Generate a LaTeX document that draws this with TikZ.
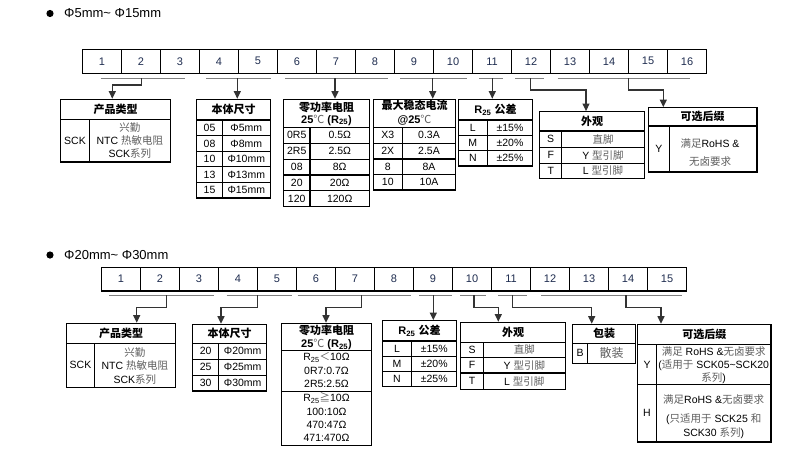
\documentclass[tikz,border=0pt]{standalone}
\usepackage{fontspec}
\setmainfont{Liberation Sans}
\newfontfamily\cjk{Noto Sans CJK SC}
\usetikzlibrary{arrows.meta,fit}
\definecolor{numc}{HTML}{1F2D50}
\definecolor{zhg}{HTML}{5E5E5E}
\definecolor{brkc}{HTML}{808080}
\definecolor{conc}{HTML}{333333}
\newcommand\zh[1]{{\cjk\color{zhg}#1}}
\newcommand\zb[1]{{\cjk\bfseries #1}}
\newcommand\myC{{\cjk\mdseries\color{zhg}℃}}
\newcommand\Rtf{R\textsubscript{25}}
\tikzset{
  cell/.style={inner sep=0pt, minimum width=39pt, minimum height=23.5pt, font=\fontsize{11}{12}\selectfont, text=numc},
  grid/.style={line width=1.1pt},
  tb/.style={draw, line width=1.2pt, inner sep=0pt},
  tl/.style={line width=1.1pt},
  brk/.style={draw=brkc, line width=1.4pt},
  arr/.style={draw=conc, line width=1.1pt, -{Triangle[width=7pt,length=7.5pt]}},
  tx/.style={inner sep=0pt, font=\fontsize{10.5}{12.5}\selectfont},
  hd/.style={inner sep=0pt, align=center, font=\fontsize{11}{13.5}\selectfont\bfseries},
  ttl/.style={inner sep=0pt, anchor=west, font=\fontsize{13}{15}\selectfont},
}
\newcommand\trow[6]{\node[tx] (#1-l) at (#2,#4) {#5}; \node[tx] (#1-r) at (#3,#4) {#6};}
\begin{document}
\begin{tikzpicture}[x=1pt,y=-1pt]
\fill[white] (0,0) rectangle (791,455);
\useasboundingbox (0,0) rectangle (791,455);

% ================= TOP =================
\fill (50,13.5) circle (3.6);
\node[ttl] (title1) at (64,13.5) {Φ5mm\textasciitilde{} Φ15mm};
\foreach \i in {1,...,16} \node[cell] (t\i) at ({82.5+(\i-0.5)*39},61.25) {\i};
\draw[grid] (t1.north west) rectangle (t16.south east);
\foreach \i in {2,...,16} \draw[grid] (t\i.north west) -- (t\i.south west);

% bracket lines
\draw[brk] (100.7,78.3) -- (185,78.3);
\draw[brk] (206.3,78.3) -- (270.7,78.3);
\draw[brk] (285,78.3) -- (387.7,78.3);
\draw[brk] (400,78.3) -- (467.3,78.3);
\draw[brk] (479.3,78.3) -- (503.3,78.3);
\draw[brk] (515.3,78.3) -- (544.3,78.3);
\draw[brk] (557.7,78.3) -- (690,78.3);
\coordinate (s1) at (141.7,78.3); \coordinate (k1) at (112.3,85);
\coordinate (s2) at (237.3,78.3);
\coordinate (s3) at (335,78.3);
\coordinate (s4) at (432.7,78.3);
\coordinate (s5) at (492.3,78.3);
\coordinate (s6) at (530.3,78.3); \coordinate (k6) at (586,90);
\coordinate (s7) at (628.3,78.3); \coordinate (k7) at (663.3,90);

% Box 1
\node[tb, fit={(60.7,99.3)(170.3,162)}] (b1) {};
\draw[tl] (60.7,119.3) -- (170.3,119.3) (89.3,119.3) -- (89.3,162);
\node[hd] (b1h) at (115.5,109.3) {\zb{产品类型}};
\node[tx] (b1a) at (75,140.7) {SCK};
\node[tx] (b1b) at (129.8,127.7) {\zh{兴勤}};
\node[tx] (b1c) at (129.8,141) {NTC \zh{热敏电阻}};
\node[tx] (b1d) at (129.8,153.3) {SCK\zh{系列}};

% Box 2
\node[tb, fit={(196.7,99.3)(270.3,198)}] (b2) {};
\draw[tl] (196.7,120) -- (270.3,120) (196.7,135.7) -- (270.3,135.7) (196.7,151.3) -- (270.3,151.3)
  (196.7,166.7) -- (270.3,166.7) (196.7,182.3) -- (270.3,182.3) (222.3,120) -- (222.3,198);
\node[hd] (b2h) at (233.5,109.7) {\zb{本体尺寸}};
\trow{b2r1}{209.5}{246.3}{127.85}{05}{Φ5mm}
\trow{b2r2}{209.5}{246.3}{143.5}{08}{Φ8mm}
\trow{b2r3}{209.5}{246.3}{159}{10}{Φ10mm}
\trow{b2r4}{209.5}{246.3}{174.5}{13}{Φ13mm}
\trow{b2r5}{209.5}{246.3}{190.15}{15}{Φ15mm}

% Box 3
\node[tb, fit={(283.5,99.3)(369.5,206.3)}] (b3) {};
\draw[tl] (283.5,127.3) -- (369.5,127.3) (283.5,143.3) -- (369.5,143.3) (283.5,159.3) -- (369.5,159.3)
  (283.5,175) -- (369.5,175) (283.5,190.7) -- (369.5,190.7) (310,127.3) -- (310,206.3);
\node[hd] (b3h) at (326.5,107.5) {\zb{零功率电阻}};
\node[hd] (b3h2) at (326.5,120) {25\myC{} (\Rtf)};
\trow{b3r1}{296.75}{339.75}{135.3}{0R5}{0.5Ω}
\trow{b3r2}{296.75}{339.75}{151.3}{2R5}{2.5Ω}
\trow{b3r3}{296.75}{339.75}{167.1}{08}{8Ω}
\trow{b3r4}{296.75}{339.75}{182.8}{20}{20Ω}
\trow{b3r5}{296.75}{339.75}{198.5}{120}{120Ω}

% Box 4
\node[tb, fit={(373.3,99.3)(455.7,190)}] (b4) {};
\draw[tl] (373.3,127.3) -- (455.7,127.3) (373.3,143.3) -- (455.7,143.3) (373.3,159) -- (455.7,159)
  (373.3,174.3) -- (455.7,174.3) (402.3,127.3) -- (402.3,190);
\node[hd] (b4h) at (414.5,105.5) {\zb{最大稳态电流}};
\node[hd] (b4h2) at (414.5,120.5) {@25\myC};
\trow{b4r1}{387.8}{429}{135.3}{X3}{0.3A}
\trow{b4r2}{387.8}{429}{151.1}{2X}{2.5A}
\trow{b4r3}{387.8}{429}{166.6}{8}{8A}
\trow{b4r4}{387.8}{429}{182.1}{10}{10A}

% Box 5
\node[tb, fit={(458.3,99.3)(532.7,166)}] (b5) {};
\draw[tl] (458.3,120) -- (532.7,120) (458.3,135.7) -- (532.7,135.7) (458.3,150.7) -- (532.7,150.7)
  (487.3,120) -- (487.3,166);
\node[hd] (b5h) at (495.5,110) {\Rtf{} \zb{公差}};
\trow{b5r1}{472.8}{510}{127.85}{L}{±15\%}
\trow{b5r2}{472.8}{510}{143.2}{M}{±20\%}
\trow{b5r3}{472.8}{510}{158.3}{N}{±25\%}

% Box 6
\node[tb, fit={(539.7,111.7)(644.3,178.3)}] (b6) {};
\draw[tl] (539.7,131) -- (644.3,131) (539.7,147.3) -- (644.3,147.3) (539.7,163.3) -- (644.3,163.3)
  (561.7,131) -- (561.7,178.3);
\node[hd] (b6h) at (592,121.3) {\zb{外观}};
\trow{b6r1}{550.7}{603}{139.1}{S}{\zh{直脚}}
\trow{b6r2}{550.7}{603}{155.3}{F}{Y \zh{型引脚}}
\trow{b6r3}{550.7}{603}{170.8}{T}{L \zh{型引脚}}

% Box 7
\node[tb, fit={(648.3,107.7)(757,172)}] (b7) {};
\draw[tl] (648.3,126) -- (757,126) (669.3,126) -- (669.3,172);
\node[hd] (b7h) at (702.6,116.8) {\zb{可选后缀}};
\node[tx] (b7a) at (658.8,149) {Y};
\node[tx] (b7b) at (710,143.3) {\zh{满足}RoHS \&};
\node[tx] (b7c) at (710,161.7) {\zh{无卤要求}};

% connectors top
\draw[arr] (s1) |- (k1) -- (k1 |- b1.north);
\draw[arr] (s2) -- (s2 |- b2.north);
\draw[arr] (s3) -- (s3 |- b3.north);
\draw[arr] (s4) -- (s4 |- b4.north);
\draw[arr] (s5) -- (s5 |- b5.north);
\draw[arr] (s6) |- (k6) -- (k6 |- b6.north);
\draw[arr] (s7) |- (k7) -- (k7 |- b7.north);

% ================= BOTTOM =================
\fill (50,255) circle (3.6);
\node[ttl] (title2) at (64,255) {Φ20mm\textasciitilde{} Φ30mm};
\foreach \i in {1,...,15} \node[cell] (u\i) at ({101.5+(\i-0.5)*39},279) {\i};
\draw[grid] (u1.north west) rectangle (u15.south east);
\foreach \i in {2,...,15} \draw[grid] (u\i.north west) -- (u\i.south west);

\draw[brk] (109,295.3) -- (213.7,295.3);
\draw[brk] (226.7,295.3) -- (291.7,295.3);
\draw[brk] (297.7,295.3) -- (410.7,295.3);
\draw[brk] (419.3,295.3) -- (451.7,295.3);
\draw[brk] (460,295.3) -- (485.7,295.3);
\draw[brk] (498.3,295.3) -- (526.7,295.3);
\draw[brk] (541,295.3) -- (681.7,295.3);
\coordinate (r1) at (166.3,295.3); \coordinate (j1) at (136.7,307.3);
\coordinate (r2) at (257.3,295.3); \coordinate (j2) at (221,307.3);
\coordinate (r3) at (361.7,295.3); \coordinate (j3) at (326,307.3);
\coordinate (r4) at (433.3,295.3);
\coordinate (r5) at (474,295.3); \coordinate (j5) at (498.3,307.3);
\coordinate (r6) at (512.7,295.3); \coordinate (j6) at (591.7,307.3);
\coordinate (r7) at (626,295.3); \coordinate (j7) at (661,307.3);

% C1
\node[tb, fit={(66.7,323.3)(175.3,387.3)}] (c1) {};
\draw[tl] (66.7,343.3) -- (175.3,343.3) (94.3,343.3) -- (94.3,387.3);
\node[hd] (c1h) at (121,333.3) {\zb{产品类型}};
\node[tx] (c1a) at (80.5,365.3) {SCK};
\node[tx] (c1b) at (134.8,352.3) {\zh{兴勤}};
\node[tx] (c1c) at (134.8,366) {NTC \zh{热敏电阻}};
\node[tx] (c1d) at (134.8,379.3) {SCK\zh{系列}};

% C2
\node[tb, fit={(192.7,324.3)(266.7,391)}] (c2) {};
\draw[tl] (192.7,343.3) -- (266.7,343.3) (192.7,359.3) -- (266.7,359.3) (192.7,375.3) -- (266.7,375.3)
  (218.7,343.3) -- (218.7,391);
\node[hd] (c2h) at (229.7,333.8) {\zb{本体尺寸}};
\trow{c2r1}{205.7}{242.7}{351.3}{20}{Φ20mm}
\trow{c2r2}{205.7}{242.7}{367.3}{25}{Φ25mm}
\trow{c2r3}{205.7}{242.7}{383.2}{30}{Φ30mm}

% C3
\node[tb, fit={(281.7,323.3)(371.3,445.3)}] (c3) {};
\draw[tl] (281.7,350.7) -- (371.3,350.7) (281.7,391.3) -- (371.3,391.3);
\node[hd] (c3h) at (326.5,330.7) {\zb{零功率电阻}};
\node[hd] (c3h2) at (326.5,344.3) {25\myC{} (\Rtf)};
\node[tx] (c3a) at (326.5,357.3) {\Rtf{\cjk\color{zhg}＜}10Ω};
\node[tx] (c3b) at (326.5,370.7) {0R7:0.7Ω};
\node[tx] (c3c) at (326.5,384) {2R5:2.5Ω};
\node[tx] (c3d) at (326.5,398.3) {\Rtf{\cjk\color{zhg}≧}10Ω};
\node[tx] (c3e) at (326.5,411.7) {100:10Ω};
\node[tx] (c3f) at (326.5,425) {470:47Ω};
\node[tx] (c3g) at (326.5,438.3) {471:470Ω};

% C4
\node[tb, fit={(382.3,320.7)(456.7,386.3)}] (c4) {};
\draw[tl] (382.3,341) -- (456.7,341) (382.3,356.7) -- (456.7,356.7) (382.3,371.7) -- (456.7,371.7)
  (411.7,341) -- (411.7,386.3);
\node[hd] (c4h) at (419.5,330.8) {\Rtf{} \zb{公差}};
\trow{c4r1}{397}{434.2}{348.8}{L}{±15\%}
\trow{c4r2}{397}{434.2}{364.2}{M}{±20\%}
\trow{c4r3}{397}{434.2}{379}{N}{±25\%}

% C5
\node[tb, fit={(460.7,322.3)(565.3,389.3)}] (c5) {};
\draw[tl] (460.7,342.3) -- (565.3,342.3) (460.7,357.3) -- (565.3,357.3) (460.7,373) -- (565.3,373)
  (483.3,342.3) -- (483.3,389.3);
\node[hd] (c5h) at (513,332.3) {\zb{外观}};
\trow{c5r1}{472}{524.3}{349.8}{S}{\zh{直脚}}
\trow{c5r2}{472}{524.3}{365.1}{F}{Y \zh{型引脚}}
\trow{c5r3}{472}{524.3}{381.1}{T}{L \zh{型引脚}}

% C6
\node[tb, fit={(572.7,324.3)(635.7,363.3)}] (c6) {};
\draw[tl] (572.7,343.3) -- (635.7,343.3) (587.3,343.3) -- (587.3,363.3);
\node[hd] (c6h) at (604.2,333.8) {\zb{包装}};
\node[tx] (c6a) at (580,353.3) {B};
\node[tx, font=\fontsize{12}{14}\selectfont] (c6b) at (611.5,353.3) {\zh{散装}};

% C7
\node[tb, fit={(637.7,324.3)(771,442)}] (c7) {};
\draw[tl] (637.7,344.3) -- (771,344.3) (637.7,384.7) -- (771,384.7) (656.3,344.3) -- (656.3,442);
\node[hd] (c7h) at (704.3,334.3) {\zb{可选后缀}};
\node[tx] (c7a) at (647,364.5) {Y};
\node[tx] (c7b) at (713.7,351.7) {\zh{满足} RoHS \&\zh{无卤要求}};
\node[tx] (c7c) at (713.7,365) {(\zh{适用于} SCK05\textasciitilde SCK20};
\node[tx] (c7d) at (713.7,378.3) {\zh{系列})};
\node[tx] (c7e) at (647,413.3) {H};
\node[tx] (c7f) at (713.7,400) {\zh{满足}RoHS \&\zh{无卤要求}};
\node[tx] (c7g) at (713.7,419.3) {(\zh{只适用于} SCK25 \zh{和}};
\node[tx] (c7h2) at (713.7,433.3) {SCK30 \zh{系列})};

% connectors bottom
\draw[arr] (r1) |- (j1) -- (j1 |- c1.north);
\draw[arr] (r2) |- (j2) -- (j2 |- c2.north);
\draw[arr] (r3) |- (j3) -- (j3 |- c3.north);
\draw[arr] (r4) -- (r4 |- c4.north);
\draw[arr] (r5) |- (j5) -- (j5 |- c5.north);
\draw[arr] (r6) |- (j6) -- (j6 |- c6.north);
\draw[arr] (r7) |- (j7) -- (j7 |- c7.north);
\end{tikzpicture}
\end{document}
